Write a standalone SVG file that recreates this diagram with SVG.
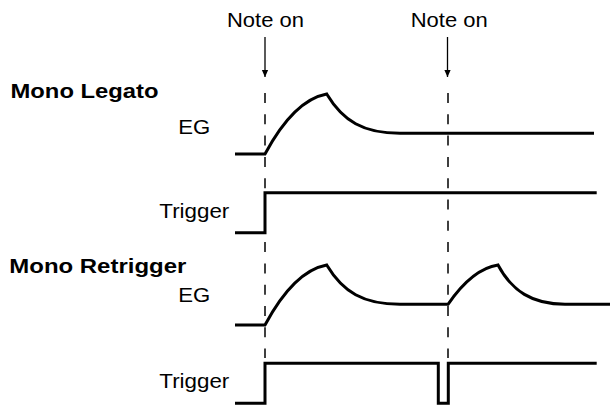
<svg xmlns="http://www.w3.org/2000/svg" width="611" height="406" viewBox="0 0 611 406">
<defs>
<style>
text{font-family:"Liberation Sans",Arial,sans-serif;font-size:20px;fill:#000}
.b{font-weight:bold;font-size:21px}
.w{fill:none;stroke:#000;stroke-width:3;stroke-linejoin:miter}
.d{fill:none;stroke:#000;stroke-width:1.5;stroke-dasharray:10 11.3}
.a{fill:none;stroke:#000;stroke-width:1.3}
</style>
<marker id="ah" viewBox="0 0 10 10" refX="10" refY="5" markerWidth="7" markerHeight="8" markerUnits="userSpaceOnUse" orient="auto"><path d="M0,0.5 L10,5 L0,9.5 z" fill="#000"/></marker>
</defs>
<rect width="611" height="406" fill="#fff"/>
<g id="labels">
<text x="227" y="27" textLength="77" lengthAdjust="spacingAndGlyphs">Note on</text>
<text x="410.7" y="27" textLength="77" lengthAdjust="spacingAndGlyphs">Note on</text>
<text class="b" x="10.5" y="98" textLength="148" lengthAdjust="spacingAndGlyphs">Mono Legato</text>
<text x="178.3" y="134" textLength="32" lengthAdjust="spacingAndGlyphs">EG</text>
<text x="159.3" y="217.7" textLength="70" lengthAdjust="spacingAndGlyphs">Trigger</text>
<text class="b" x="9.3" y="273.3" textLength="177" lengthAdjust="spacingAndGlyphs">Mono Retrigger</text>
<text x="178.3" y="301.7" textLength="32" lengthAdjust="spacingAndGlyphs">EG</text>
<text x="159.3" y="387.7" textLength="70" lengthAdjust="spacingAndGlyphs">Trigger</text>
</g>
<g id="connectors">
<line class="a" x1="265" y1="37" x2="265" y2="77" marker-end="url(#ah)"/>
<line class="a" x1="447.5" y1="37" x2="447.5" y2="77" marker-end="url(#ah)"/>
<line class="d" x1="265" y1="93" x2="265" y2="358"/>
<line class="d" x1="448" y1="93" x2="448" y2="358"/>
</g>
<g id="legato-eg">
<path class="w" d="M235,154 L265,154 C280,126 300,99 326.7,94 C343,121 363,133.3 400,133.3 L594,133.3"/>
</g>
<g id="legato-trigger">
<path class="w" d="M235,232.7 L265,232.7 L265,192.7 L596.7,192.7"/>
</g>
<g id="retrigger-eg">
<path class="w" d="M235,325 L265,325 C280,297 300,270 326.7,265 C343,292 363,304.3 400,304.3 L448,304.3 C462,284 478,268 498,265 C512,291 532,304.3 565,304.3 L610,304.3"/>
</g>
<g id="retrigger-trigger">
<path class="w" d="M235,403.3 L265,403.3 L265,363.3 L438.3,363.3 L438.3,403.3 L448.3,403.3 L448.3,363.3 L596.7,363.3"/>
</g>
</svg>
